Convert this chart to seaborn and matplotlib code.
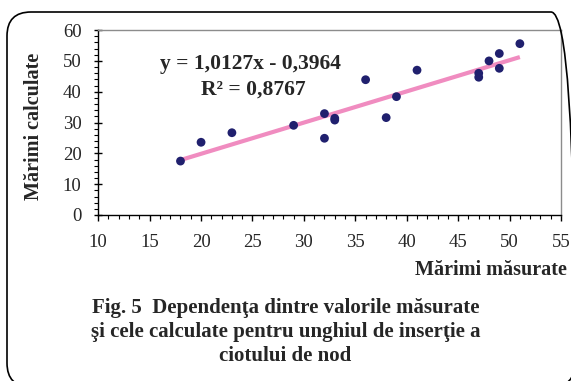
import matplotlib
matplotlib.use("Agg")
import matplotlib.pyplot as plt
from matplotlib.patches import FancyBboxPatch
from matplotlib.ticker import MultipleLocator
from matplotlib.transforms import IdentityTransform
import numpy as np
import pandas as pd
import seaborn as sns

# Measured vs. calculated values
masurate = [18, 20, 23, 29, 32, 32, 33, 33, 36, 38, 39, 41, 47, 47, 48, 49, 49, 51]
calculate = [17.5, 23.6, 26.7, 29.1, 32.9, 24.9, 31.4, 30.8, 43.9, 31.6, 38.4, 47.0,
             46.0, 44.7, 50.0, 52.4, 47.6, 55.6]

# Linear trend as reported on the chart
panta = 1.0127
interceptie = -0.3964
r2 = 0.8767

x_ticks = [10, 15, 20, 25, 30, 35, 40, 45, 50, 55]
y_ticks = [0, 10, 20, 30, 40, 50, 60]

df = pd.DataFrame({"Mărimi măsurate": masurate, "Mărimi calculate": calculate})

sns.set_style("ticks")
plt.rcParams["font.family"] = ["Liberation Serif", "DejaVu Serif"]

fig = plt.figure(figsize=(5.71, 3.81), dpi=100)
ax = fig.add_axes([0.172, 0.4357, 0.8105, 0.4853])

# trend line
xl = np.array([min(masurate), max(masurate)])
ax.plot(xl, panta * xl + interceptie, color="#F08CC0", lw=3, zorder=2,
        solid_capstyle="butt")

sns.scatterplot(data=df, x="Mărimi măsurate", y="Mărimi calculate", ax=ax,
                color="#20206E", s=40, edgecolor="none", zorder=3)

ax.set_xlim(10, 55)
ax.set_ylim(0, 60)
ax.set_xticks(x_ticks)
ax.set_yticks(y_ticks)
ax.xaxis.set_minor_locator(MultipleLocator(1))
ax.yaxis.set_minor_locator(MultipleLocator(2))
ax.tick_params(axis="x", which="major", direction="out", length=4, width=1,
               labelsize=13.5, pad=10, color="black")
ax.tick_params(axis="x", which="minor", direction="out", length=3, width=0.8,
               color="black")
ax.tick_params(axis="y", which="major", direction="inout", length=6, width=1,
               labelsize=13.5, pad=9, color="black")
ax.tick_params(axis="y", which="minor", direction="out", length=3, width=0.8,
               color="black")
for s in ["left", "bottom"]:
    ax.spines[s].set_color("black")
    ax.spines[s].set_linewidth(1)
for s in ["top", "right"]:
    ax.spines[s].set_visible(True)
    ax.spines[s].set_color("#8C8C8C")
    ax.spines[s].set_linewidth(1)

ax.set_xlabel("")
ax.set_ylabel("")
fig.text(0.992, 0.291, "Mărimi măsurate", ha="right", va="center",
         fontsize=14.5, fontweight="bold")
fig.text(0.06, 0.667, "Mărimi calculate", ha="center", va="center",
         rotation=90, fontsize=14.5, fontweight="bold")

ax.text(0.33, 0.816, f"y = {panta:.4f}x - {abs(interceptie):.4f}".replace(".", ","),
        transform=ax.transAxes, ha="center", va="center",
        fontsize=15.5, fontweight="bold")
ax.text(0.335, 0.68, f"R² = {r2:.4f}".replace(".", ","),
        transform=ax.transAxes, ha="center", va="center",
        fontsize=15.5, fontweight="bold")

fig.text(0.5, 0.128,
         "Fig. 5  Dependenţa dintre valorile măsurate\n"
         "şi cele calculate pentru unghiul de inserţie a\n"
         "ciotului de nod",
         ha="center", va="center", fontsize=15, fontweight="bold",
         linespacing=1.25)

# rounded frame around the whole figure (pixel coordinates, origin bottom-left)
frame = FancyBboxPatch((7, -6), 568, 375,
                       boxstyle="round,pad=0,rounding_size=24",
                       transform=IdentityTransform(), fill=False,
                       edgecolor="black", lw=1.2, zorder=0)
fig.patches.append(frame)

fig.savefig("out.png", dpi=100)
